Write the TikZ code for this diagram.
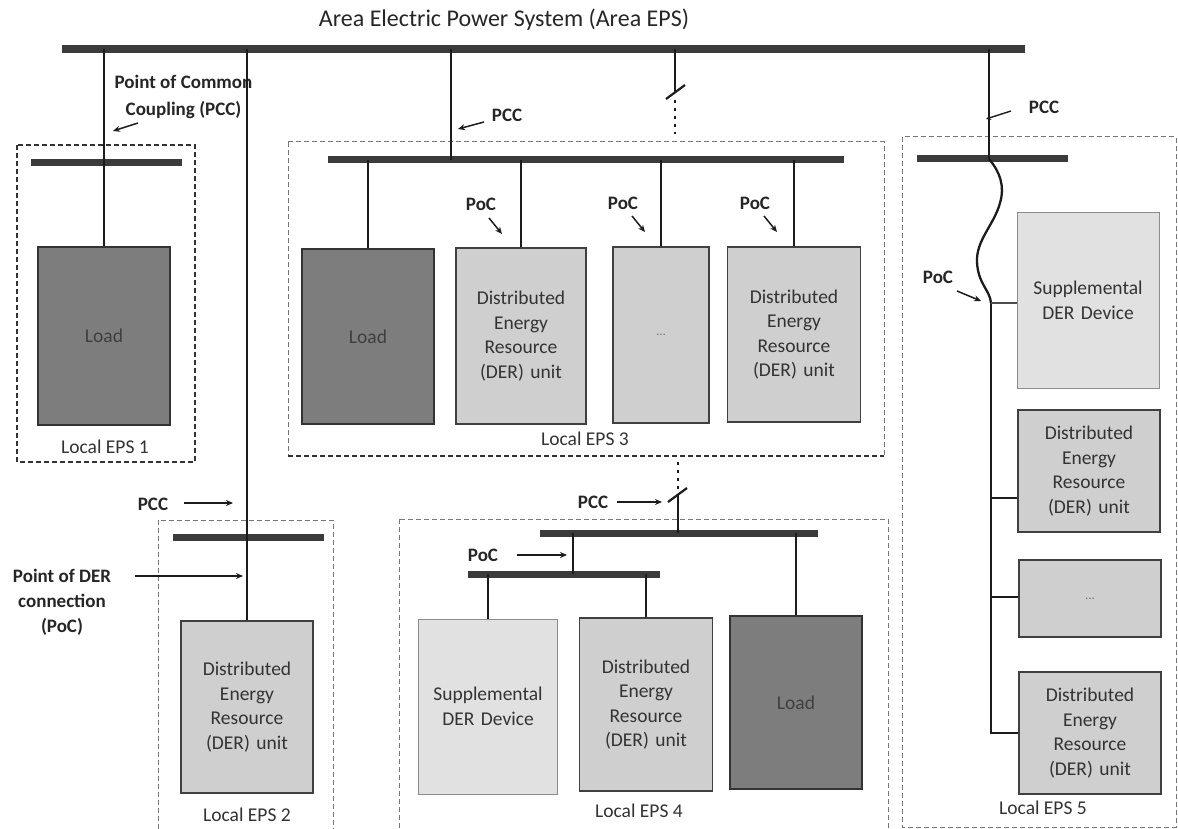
\documentclass[tikz,border=0pt]{standalone}
\usepackage{fontspec}
\setmainfont{Carlito}
\usetikzlibrary{arrows.meta}
\definecolor{busc}{HTML}{3B3B3B}
\definecolor{wirec}{HTML}{1C1C1C}
\definecolor{loadc}{HTML}{7D7D7D}
\definecolor{loadtxt}{HTML}{3F3F3F}
\definecolor{derc}{HTML}{CFCFCF}
\definecolor{supc}{HTML}{E1E1E1}
\definecolor{txtc}{HTML}{333333}
\definecolor{epsc}{HTML}{777777}
\newcommand{\boxfont}{\fontsize{19.5}{24.5}\selectfont}
\newcommand{\lblfont}{\fontsize{19}{25}\selectfont\bfseries}
\tikzset{
  bus/.style={fill=busc, inner sep=0pt, minimum height=8},
  wire/.style={line width=2.6, draw=wirec},
  dotw/.style={line width=2.6, draw=wirec, dash pattern=on 3 off 5},
  swt/.style={line width=2.2, draw=wirec},
  eqbox/.style={inner sep=0pt, align=center, font=\boxfont},
  loadbox/.style={eqbox, draw=black!80, line width=1.3, fill=loadc, text=loadtxt},
  derbox/.style={eqbox, draw=black!75, line width=1.3, fill=derc, text=txtc},
  supbox/.style={eqbox, draw=black!45, line width=1.0, fill=supc, text=txtc},
  eps/.style={draw=epsc, line width=1, dash pattern=on 5 off 3},
  epsdark/.style={draw=black!80, line width=1.1, dash pattern=on 5 off 3},
  epslbl/.style={font=\boxfont, text=txtc, inner sep=0pt},
  lbl/.style={font=\lblfont, text=black!85, inner sep=0pt, align=center},
  arr/.style={-{Stealth[length=7,width=6]}, line width=1.5, draw=wirec},
}
\begin{document}
\begin{tikzpicture}[x=1pt,y=-1pt]
\fill[white] (0,0) rectangle (1178,829);
\useasboundingbox (0,0) rectangle (1178,829);

% title and main bus
\node[font=\fontsize{24}{28}\selectfont, text=black!85, inner sep=0pt] (title) at (504,20) {Area Electric Power System (Area EPS)};
\node[bus, minimum width=963] (main) at (543.5,49) {};

% local EPS frames
\draw[epsdark] (17,145) rectangle (195,462);
\draw[eps] (158,520) rectangle (333,845);
\draw[eps] (288,142) -- (884,142) -- (884,456);
\draw[eps] (288,142) -- (288,456);
\draw[epsdark] (288,456) -- (884,456);
\draw[eps] (399,519) rectangle (888,845);
\draw[eps] (902,137) rectangle (1176,827);

% ---------- Local EPS 1 ----------
\node[bus, minimum width=151, minimum height=7] (bus1) at (106.5,163) {};
\node[loadbox, minimum width=132, minimum height=178] (ld1) at (104,336) {Load};
\draw[wire] (ld1.north) -- (ld1.north |- main.center);
\node[epslbl] (e1) at (105,447) {Local EPS 1};
\node[lbl, font=\fontsize{19}{27}\selectfont\bfseries] (pcclbl) at (183.5,96.5) {Point of Common\\Coupling (PCC)};
\coordinate (a1s) at (138,123);
\coordinate (a1e) at (113,131);
\draw[arr] (a1s) -- (a1e);

% ---------- Local EPS 2 ----------
\node[bus, minimum width=151, minimum height=7] (bus2) at (248.5,537) {};
\node[derbox, minimum width=132, minimum height=172, text width=126] (der2) at (247,707) {Distributed\\Energy\\Resource\\(DER) unit};
\draw[wire] (der2.north) -- (der2.north |- main.center);
\node[epslbl] (e2) at (247,815) {Local EPS 2};
\node[lbl] (pcc2) at (153,504) {PCC};
\coordinate (a2e) at (233,503);
\draw[arr] (pcc2.east) ++(16,-1) -- (a2e);
\node[lbl] (poc2) at (62,602) {Point of DER\\connection\\(PoC)};
\coordinate (a3s) at (135,576);
\coordinate (a3e) at (243,576);
\draw[arr] (a3s) -- (a3e);

% ---------- Local EPS 3 ----------
\node[bus, minimum width=516, minimum height=7] (bus3) at (586,160) {};
\coordinate (t3) at (451,160);
\draw[wire] (t3) -- (t3 |- main.center);
\node[lbl] (pcc3) at (507,115) {PCC};
\coordinate (a4s) at (484,122);
\coordinate (a4e) at (458,129);
\draw[arr] (a4s) -- (a4e);

\node[loadbox, minimum width=132, minimum height=175] (ld3) at (368,336.5) {Load};
\node[derbox, minimum width=130, minimum height=176, text width=124] (der3a) at (521,336) {Distributed\\Energy\\Resource\\(DER) unit};
\node[derbox, minimum width=96, minimum height=176, text width=90] (dots3) at (661,335) {\fontsize{13}{15}\selectfont\color{black!55}...};
\node[derbox, minimum width=133, minimum height=175, text width=127] (der3b) at (794,334.5) {Distributed\\Energy\\Resource\\(DER) unit};
\foreach \b in {ld3,der3a,dots3,der3b} {
  \draw[wire] (\b.north) -- (\b.north |- bus3.center);
}
\node[lbl] (poc3a) at (481,204) {PoC};
\node[lbl] (poc3b) at (623,203) {PoC};
\node[lbl] (poc3c) at (755,203) {PoC};
\coordinate (p3as) at (489,218); \coordinate (p3ae) at (502,234);
\coordinate (p3bs) at (632,216); \coordinate (p3be) at (645,232);
\coordinate (p3cs) at (764,216); \coordinate (p3ce) at (777,232);
\draw[arr] (p3as) -- (p3ae);
\draw[arr] (p3bs) -- (p3be);
\draw[arr] (p3cs) -- (p3ce);
\node[epslbl] (e3) at (585,439) {Local EPS 3};

% switch above Local EPS 3
\coordinate (sw1) at (675,92);
\coordinate (d1bot) at (675,134);
\draw[wire] (sw1) -- (sw1 |- main.center);
\draw[dotw] (sw1) ++(0,8) -- (d1bot);
\draw[swt] ([shift={(-9,7)}]sw1) -- ([shift={(10,-7)}]sw1);

% ---------- Local EPS 4 ----------
\node[bus, minimum width=278, minimum height=7] (bus4a) at (679,533) {};
\node[bus, minimum width=192, minimum height=7] (bus4b) at (564,574) {};
\coordinate (t4b) at (573,574);
\draw[wire] (t4b) -- (t4b |- bus4a.center);
\coordinate (sw2) at (678,495);
\coordinate (d2top) at (678,462);
\draw[wire] (sw2) -- (sw2 |- bus4a.center);
\draw[dotw] (d2top) -- (678,489);
\draw[swt] ([shift={(-10,7)}]sw2) -- ([shift={(9,-7)}]sw2);
\node[lbl] (pcc4) at (593,502) {PCC};
\coordinate (a5s) at (617,502); \coordinate (a5e) at (662,502);
\draw[arr] (a5s) -- (a5e);
\node[lbl] (poc4) at (483,555) {PoC};
\coordinate (a6s) at (517,555); \coordinate (a6e) at (567,555);
\draw[arr] (a6s) -- (a6e);

\node[supbox, minimum width=139, minimum height=175, text width=133] (sup4) at (488,706.5) {Supplemental\\DER Device};
\node[derbox, minimum width=133, minimum height=173, text width=127] (der4) at (646,704.5) {Distributed\\Energy\\Resource\\(DER) unit};
\node[loadbox, minimum width=132, minimum height=173] (ld4) at (796,702.5) {Load};
\draw[wire] (sup4.north) -- (sup4.north |- bus4b.center);
\draw[wire] (der4.north) -- (der4.north |- bus4b.center);
\draw[wire] (ld4.north) -- (ld4.north |- bus4a.center);
\node[epslbl] (e4) at (639,811) {Local EPS 4};

% ---------- Local EPS 5 ----------
\node[bus, minimum width=151, minimum height=7] (bus5) at (992.5,159) {};
\coordinate (t5) at (989,159);
\draw[wire] (t5) -- (t5 |- main.center);
\node[lbl] (pcc5) at (1044,107) {PCC};
\coordinate (a7s) at (1011,111); \coordinate (a7e) at (986,119);
\draw[-{Stealth[length=5,width=5]}, line width=1.4, draw=wirec] (a7s) -- (a7e);

\node[supbox, minimum width=142, minimum height=175, text width=136] (sup5) at (1088,300.5) {Supplemental\\DER Device};
\node[derbox, minimum width=142, minimum height=122, text width=136] (der5a) at (1089,471) {Distributed\\Energy\\Resource\\(DER) unit};
\node[derbox, minimum width=142, minimum height=77, text width=136] (dots5) at (1090,598.5) {\fontsize{13}{15}\selectfont\color{black!55}...};
\node[derbox, minimum width=142, minimum height=122, text width=136] (der5b) at (1090,733) {Distributed\\Energy\\Resource\\(DER) unit};

\coordinate (pc5) at (991,303);
\coordinate (j2) at (991,498);
\coordinate (j3) at (991,597);
\coordinate (e5) at (991,733);
\draw[wire, line width=2.3] (t5) .. controls (1000,172) and (1005,186) .. (1000,203)
  .. controls (994,225) and (976,240) .. (977,262)
  .. controls (978,284) and (990,290) .. (pc5);
\draw[wire] (pc5) -- (e5) -- (e5 -| der5b.west);
\draw[wire, line width=1.8, draw=black!70] (pc5) -- (pc5 -| sup5.west);
\draw[wire] (j2) -- (j2 -| der5a.west);
\draw[wire] (j3) -- (j3 -| dots5.west);
\node[lbl] (poc5) at (938,277) {PoC};
\coordinate (a8s) at (957,291); \coordinate (a8e) at (981,301);
\draw[arr] (a8s) -- (a8e);
\node[epslbl] (e5l) at (1043,808) {Local EPS 5};
\end{tikzpicture}
\end{document}
